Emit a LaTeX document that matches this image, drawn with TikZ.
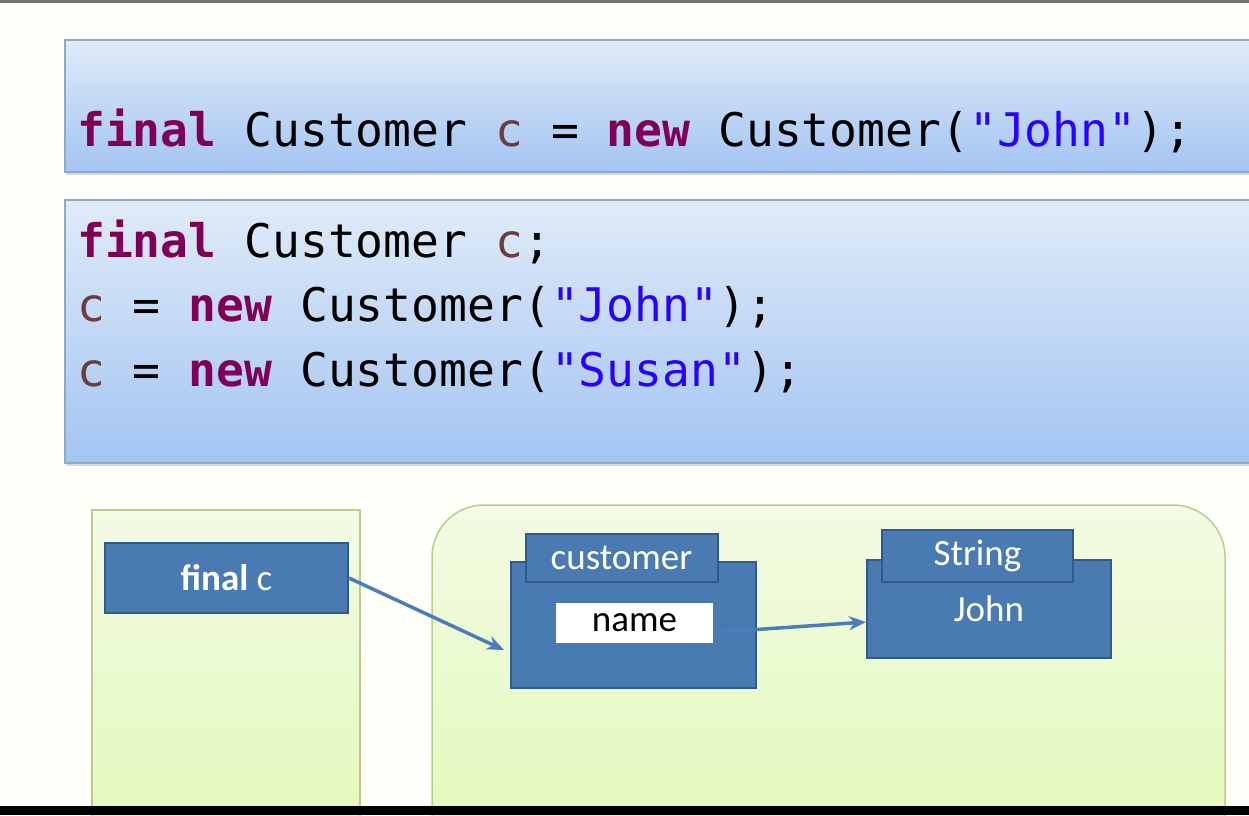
\documentclass[tikz,border=0pt]{standalone}
\usepackage{fontspec}
\setmainfont{Carlito}
\newfontfamily\codefont{DejaVu Sans Mono}
\usetikzlibrary{arrows.meta,shadows}

\definecolor{kwcol}{HTML}{7F0055}
\definecolor{varcol}{HTML}{6A3E3E}
\definecolor{strcol}{HTML}{2A00FF}
\definecolor{paneltop}{HTML}{E0EBF8}
\definecolor{panelbot}{HTML}{A3C4F3}
\definecolor{panelline}{HTML}{8FA9C2}
\definecolor{greentop}{HTML}{F3FBE4}
\definecolor{greenbot}{HTML}{E0F8B1}
\definecolor{greenline}{HTML}{BACD8E}
\definecolor{objfill}{HTML}{4A7AB2}
\definecolor{objline}{HTML}{2F5A8A}
\definecolor{refcol}{HTML}{4A7EBB}

\newcommand\codekw[1]{\textcolor{kwcol}{\textbf{#1}}}
\newcommand\codevar[1]{\textcolor{varcol}{#1}}
\newcommand\codestr[1]{\textcolor{strcol}{#1}}

\tikzset{
  codepanel/.style={draw=panelline, line width=1.5pt, top color=paneltop, bottom color=panelbot,
    drop shadow={opacity=0.3, shadow xshift=1pt, shadow yshift=-3pt}},
  codeline/.style={anchor=base west, inner sep=0pt, font=\codefont\fontsize{46.3}{64.5}\selectfont},
  memarea/.style={draw=greenline, line width=1.5pt, top color=greentop, bottom color=greenbot},
  objbox/.style={draw=objline, line width=2pt, fill=objfill, text=white, inner sep=0pt,
    font=\fontsize{37}{40}\selectfont},
  fieldbox/.style={fill=white, inner sep=0pt, font=\fontsize{37}{40}\selectfont},
  ref/.style={draw=refcol, line width=3.5pt, -{Stealth[length=17pt,width=14pt]}}
}

\begin{document}
\begin{tikzpicture}[x=1pt,y=-1pt]
  \useasboundingbox (0,0) rectangle (1249,815);
  \clip (0,0) rectangle (1249,815);
  \fill[white!98!yellow] (0,0) rectangle (1249,815);
  \fill[gray!90!black] (0,0) rectangle (1249,3);

  % code panels
  \path[codepanel] (65,40) rectangle (1270,172);
  \path[codepanel] (65,200) rectangle (1270,463);
  \node[codeline] (line1) at (77,146) {\codekw{final} Customer \codevar{c} = \codekw{new} Customer(\codestr{"John"});};
  \node[codeline] (line2) at (77,257) {\codekw{final} Customer \codevar{c};};
  \node[codeline] (line3) at (77,321.5) {\codevar{c} = \codekw{new} Customer(\codestr{"John"});};
  \node[codeline] (line4) at (77,386) {\codevar{c} = \codekw{new} Customer(\codestr{"Susan"});};

  % stack and heap
  \path[memarea] (92,900) -- (92,510) -- (360,510) -- (360,900) -- cycle;
  \path[memarea, rounded corners=52pt] (432,900) -- (432,505) -- (1225,505) -- (1225,900) -- cycle;

  \node[objbox, minimum width=243pt, minimum height=70pt] (finalc) at (226.5,578) {\textbf{final} c};

  \node[objbox, minimum width=245pt, minimum height=126pt] (custbox) at (633.5,625) {};
  \node[objbox, minimum width=192pt, minimum height=48pt] (custtab) at (621.5,558) {customer};
  \node[fieldbox, minimum width=157pt, minimum height=40pt] (namebox) at (634.5,623) {name};

  \node[objbox, minimum width=244pt, minimum height=98pt] (strbox) at (989,609) {John};
  \node[objbox, minimum width=191pt, minimum height=52pt] (strtab) at (977.5,555.5) {String};

  \draw[ref] (finalc.east) -- ([shift={(-6,25)}]custbox.west);
  \draw[ref] ([shift={(7,9)}]namebox.east) -- ([shift={(0,13)}]strbox.west);

  \fill[black] (0,806) rectangle (1249,815);
\end{tikzpicture}
\end{document}
